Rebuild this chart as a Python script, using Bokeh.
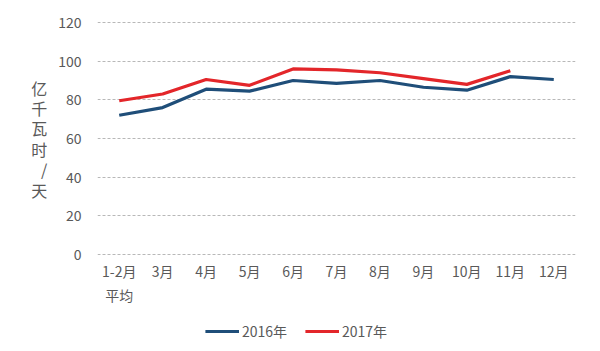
from bokeh.plotting import figure
from bokeh.models import Legend, LegendItem, FactorRange, Range1d
from bokeh.layouts import column
from bokeh.embed import file_html
from bokeh.resources import INLINE

months = ["1-2月\n平均", "3月", "4月", "5月", "6月", "7月", "8月", "9月", "10月", "11月", "12月"]
y2016 = [72, 76, 85.5, 84.5, 90, 88.5, 90, 86.5, 85, 92, 90.5]
y2017 = [79.5, 83, 90.5, 87.5, 96, 95.5, 94, 91, 88, 95]
series_names = ["2016年", "2017年"]
y_ticks = [0, 20, 40, 60, 80, 100, 120]
y_title = "亿\n千\n瓦\n时\n/\n天"

FONT = "Noto Sans CJK SC"
TXT = "#595959"
C16 = "#1F4E79"
C17 = "#E3262A"

p = figure(width=600, height=315, x_range=FactorRange(*months, range_padding=0),
           y_range=Range1d(-0.5, 120.5), output_backend="svg", toolbar_location=None,
           min_border_left=97, min_border_right=25, min_border_top=21, min_border_bottom=60)
p.outline_line_color = None
p.background_fill_color = "white"

p.line(months, y2016, line_color=C16, line_width=3.2)
p.line(months[:len(y2017)], y2017, line_color=C17, line_width=3.2)

p.xgrid.grid_line_color = None
p.ygrid.grid_line_color = "#b8b8b8"
p.ygrid.grid_line_dash = "3 2"
p.ygrid.grid_line_width = 1
p.yaxis.ticker = y_ticks

for ax in (p.xaxis, p.yaxis):
    ax.axis_line_color = None
    ax.major_tick_line_color = None
    ax.minor_tick_line_color = None
    ax.major_tick_in = 0
    ax.major_tick_out = 0
    ax.major_label_text_font = FONT
    ax.major_label_text_font_size = "14px"
    ax.major_label_text_color = TXT

p.yaxis.major_label_standoff = 16
p.xaxis.major_label_standoff = 5

p.yaxis.axis_label = y_title
p.yaxis.axis_label_orientation = "horizontal"
p.yaxis.axis_label_text_font = FONT
p.yaxis.axis_label_text_font_style = "normal"
p.yaxis.axis_label_text_font_size = "16px"
p.yaxis.axis_label_text_color = TXT
p.yaxis.axis_label_text_line_height = 0.85
p.yaxis.axis_label_standoff = 8

# legend strip: same series drawn in a range that keeps them out of view
lg = figure(width=520, height=32, x_range=p.x_range, y_range=Range1d(500, 501),
            output_backend="svg", toolbar_location=None,
            x_axis_location=None, y_axis_location=None, min_border=0)
lg.outline_line_color = None
lg.grid.visible = False
l16 = lg.line(months, y2016, line_color=C16, line_width=3.2)
l17 = lg.line(months[:len(y2017)], y2017, line_color=C17, line_width=3.2)

legend = Legend(items=[LegendItem(label=series_names[0], renderers=[l16]),
                       LegendItem(label=series_names[1], renderers=[l17])],
                orientation="horizontal", location="center",
                label_text_font=FONT, label_text_font_size="14px", label_text_color=TXT,
                glyph_width=34, label_standoff=3, spacing=18, border_line_color=None,
                background_fill_alpha=0, margin=0, padding=0, label_height=16, glyph_height=16)
lg.add_layout(legend, "center")

layout = column(p, lg, spacing=0)
out = file_html(layout, INLINE)
open("out.html", "w").write(out)
